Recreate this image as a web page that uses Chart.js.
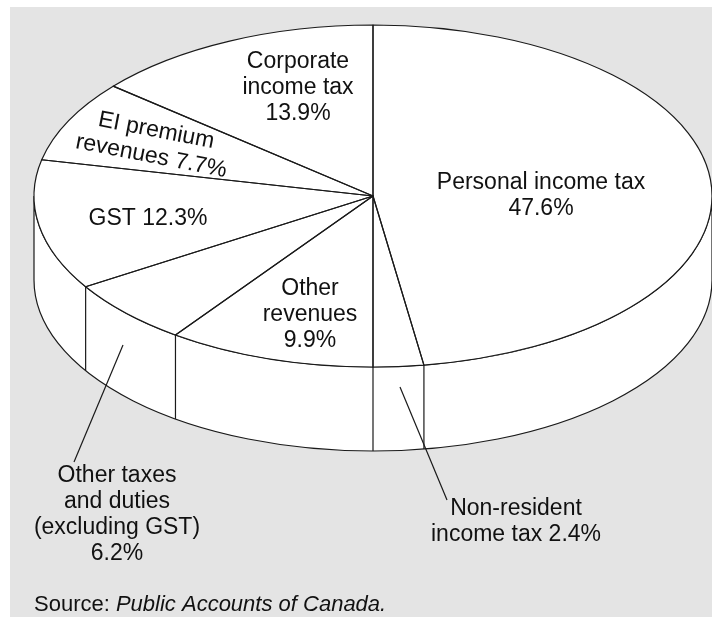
<!DOCTYPE html>
<html>
<head>
<meta charset="utf-8">
<script src="https://cdn.jsdelivr.net/npm/chart.js@4.4.1/dist/chart.umd.min.js"></script>
<style>
  html, body { margin: 0; padding: 0; background: #fff; }
  #wrap { width: 712px; height: 617px; }
</style>
</head>
<body>
<div id="wrap"><canvas id="revenuePie" width="712" height="617"></canvas></div>
<script>
// federal revenue shares, clockwise from 12 o'clock
const categories = ['Personal income tax', 'Non-resident income tax', 'Other revenues',
    'Other taxes and duties (excluding GST)', 'GST', 'EI premium revenues', 'Corporate income tax'];
const shares = [47.6, 2.4, 9.9, 6.2, 12.3, 7.7, 13.9];
const labelLines = [
    ['Personal income tax'],
    ['Non-resident', 'income tax'],
    ['Other', 'revenues'],
    ['Other taxes', 'and duties', '(excluding GST)'],
    ['GST'],
    ['EI premium', 'revenues'],
    ['Corporate', 'income tax']
];
const pctOwnLine = [true, false, true, true, false, false, true];
const sourceNote = ['Source: ', 'Public Accounts of Canada.'];

// ellipse geometry of the tilted pie
const CX = 373, CY = 196, RX = 339, RY = 171, DEPTH = 84;
const INK = '#1a1a1a';
const FONT = '"Liberation Sans", Arial, Helvetica, sans-serif';

// where each label sits (x centre, first baseline, rotation in degrees)
const labelSpots = [
    { x: 541, y: 189, rot: 0 },
    { x: 516, y: 515, rot: 0 },
    { x: 310, y: 295, rot: 0 },
    { x: 117, y: 482, rot: 0 },
    { x: 148, y: 225, rot: 0 },
    { x: 155, y: 137, rot: 11 },
    { x: 298, y: 68, rot: 0 }
];
// leader lines: [from x, from y, to x, to y]
const leaders = {
    1: [400, 387, 447, 500],
    3: [123, 345, 74, 462]
};
const LINE_H = 26;

function squash(ctx, arc) {
    ctx.translate(CX, CY);
    ctx.scale(RX / arc.outerRadius, RY / arc.outerRadius);
    ctx.translate(-arc.x, -arc.y);
}

const pie3d = {
    id: 'pie3d',
    beforeDraw(chart) {
        const ctx = chart.ctx;
        ctx.save();
        ctx.fillStyle = '#e4e4e4';
        ctx.fillRect(10, 7, chart.width - 10, chart.height - 7);
        ctx.restore();
    },
    beforeDatasetsDraw(chart) {
        const ctx = chart.ctx;
        const arcs = chart.getDatasetMeta(0).data;

        // front wall of the disc
        ctx.save();
        ctx.beginPath();
        ctx.ellipse(CX, CY, RX, RY, 0, 0, Math.PI);
        ctx.lineTo(CX - RX, CY + DEPTH);
        ctx.ellipse(CX, CY + DEPTH, RX, RY, 0, Math.PI, 0, true);
        ctx.closePath();
        ctx.fillStyle = '#fff';
        ctx.fill();
        ctx.strokeStyle = INK;
        ctx.lineWidth = 1.2;
        ctx.stroke();

        // slice edges running down the wall
        arcs.forEach(arc => {
            const a = arc.startAngle;
            if (Math.sin(a) > 0) {
                const x = CX + RX * Math.cos(a);
                const y = CY + RY * Math.sin(a);
                ctx.beginPath();
                ctx.moveTo(x, y);
                ctx.lineTo(x, y + DEPTH);
                ctx.stroke();
            }
        });
        ctx.restore();

        // top face is drawn flattened
        ctx.save();
        squash(ctx, arcs[0]);
    },
    afterDatasetsDraw(chart) {
        const ctx = chart.ctx;
        ctx.restore();
        const arcs = chart.getDatasetMeta(0).data;

        ctx.save();
        ctx.strokeStyle = INK;
        ctx.lineWidth = 1.2;
        ctx.lineJoin = 'round';
        arcs.forEach(arc => {
            ctx.save();
            squash(ctx, arc);
            ctx.beginPath();
            ctx.moveTo(arc.x, arc.y);
            ctx.arc(arc.x, arc.y, arc.outerRadius, arc.startAngle, arc.endAngle);
            ctx.closePath();
            ctx.restore();
            ctx.stroke();
        });

        // leader lines
        Object.values(leaders).forEach(l => {
            ctx.beginPath();
            ctx.moveTo(l[0], l[1]);
            ctx.lineTo(l[2], l[3]);
            ctx.stroke();
        });

        // slice labels
        ctx.fillStyle = '#111';
        ctx.font = '23px ' + FONT;
        ctx.textAlign = 'center';
        ctx.textBaseline = 'alphabetic';
        shares.forEach((v, i) => {
            const pct = v.toFixed(1) + '%';
            const lines = labelLines[i].slice();
            if (pctOwnLine[i]) lines.push(pct);
            else lines[lines.length - 1] += ' ' + pct;
            const s = labelSpots[i];
            ctx.save();
            ctx.translate(s.x, s.y);
            ctx.rotate(s.rot * Math.PI / 180);
            lines.forEach((t, k) => ctx.fillText(t, 0, k * LINE_H));
            ctx.restore();
        });

        // source note
        ctx.textAlign = 'left';
        ctx.font = '22px ' + FONT;
        ctx.fillText(sourceNote[0], 34, 611);
        const w = ctx.measureText(sourceNote[0]).width;
        ctx.font = 'italic 22px ' + FONT;
        ctx.fillText(sourceNote[1], 34 + w, 611);
        ctx.restore();
    }
};

new Chart(document.getElementById('revenuePie'), {
    type: 'pie',
    data: {
        labels: categories,
        datasets: [{
            data: shares,
            backgroundColor: '#fff',
            borderWidth: 0,
            hoverOffset: 0
        }]
    },
    options: {
        responsive: false,
        animation: false,
        events: [],
        layout: { padding: 0 },
        plugins: {
            legend: { display: false },
            tooltip: { enabled: false }
        }
    },
    plugins: [pie3d]
});
</script>
</body>
</html>
